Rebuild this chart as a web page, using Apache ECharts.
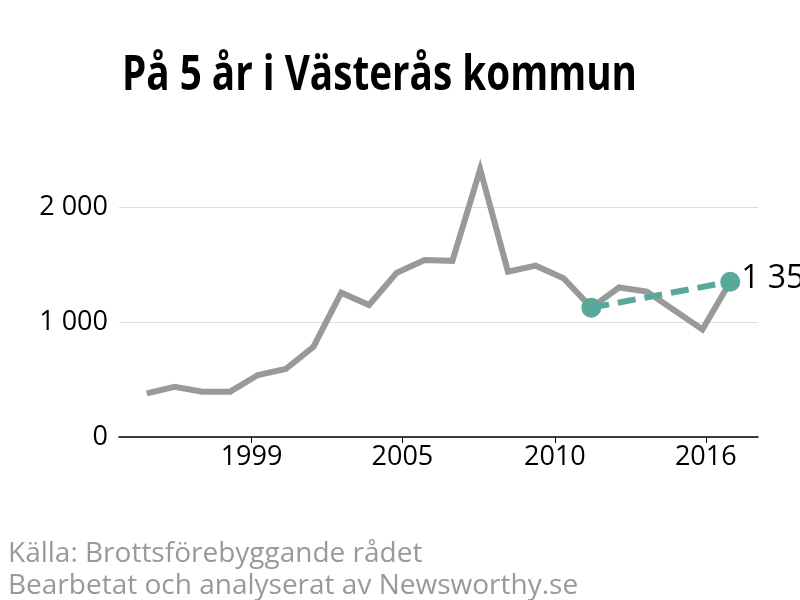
<!DOCTYPE html>
<html>
<head>
<meta charset="utf-8">
<script src="https://cdn.jsdelivr.net/npm/echarts@6/dist/echarts.min.js"></script>
<style>
  html, body { margin: 0; padding: 0; background: #fff; }
  #chart { width: 800px; height: 600px; }
</style>
</head>
<body>
<div id="chart"></div>
<script>
// data
var years = [1996, 1997, 1998, 1999, 2000, 2001, 2002, 2003, 2004, 2005, 2006,
             2007, 2008, 2009, 2010, 2011, 2012, 2013, 2014, 2015, 2016, 2017];
var values = [380, 437, 394, 394, 539, 591, 785, 1255, 1148, 1429, 1539,
              1532, 2328, 1438, 1490, 1380, 1125, 1300, 1264, 1100, 935, 1350];
// 5-year comparison: 2012 -> 2017
var trendYears = [2012, 2017];
var trendValues = [1125, 1350];
// x ticks sit between years in the original, labels show the year
var xTicks = [1999.77, 2005.2, 2010.69, 2016.12];
var yTicks = [0, 1000, 2000];

var titleText = 'På 5 år i Västerås kommun';
var titleFont = 'bold 48px "Open Sans", sans-serif';

function fmt(v) {
  return String(Math.round(v)).replace(/\B(?=(\d{3})+(?!\d))/g, ' ');
}

// the original title is a condensed bold face, squeeze Open Sans Bold to the same width
var ctx = document.createElement('canvas').getContext('2d');
ctx.font = titleFont;
var titleScale = 515 / ctx.measureText(titleText).width;

var chart = echarts.init(document.getElementById('chart'));

var option = {
  backgroundColor: '#fff',
  animation: false,
  graphic: [
    {
      type: 'text',
      x: 122,
      y: 76,
      scaleX: titleScale,
      style: {
        text: titleText,
        font: titleFont,
        fill: '#000',
        verticalAlign: 'middle'
      }
    }
  ],
  title: {
    text: 'Källa: Brottsförebyggande rådet\nBearbetat och analyserat av Newsworthy.se',
    left: 3,
    top: 533,
    textStyle: {
      fontFamily: '"Open Sans", sans-serif',
      fontWeight: 'normal',
      fontSize: 28,
      lineHeight: 32,
      color: '#999'
    }
  },
  grid: { left: 119, right: 42, top: 207, bottom: 163 },
  xAxis: {
    type: 'value',
    min: 1995,
    max: 2018,
    splitLine: { show: false },
    axisLine: { show: true, lineStyle: { color: '#000', width: 1.5 } },
    axisTick: { show: true, length: 6, customValues: xTicks, lineStyle: { color: '#000' } },
    axisLabel: {
      customValues: xTicks,
      formatter: function (v) { return String(Math.floor(v)); },
      fontFamily: '"Open Sans", sans-serif',
      fontSize: 27,
      color: '#000',
      margin: 7
    }
  },
  yAxis: {
    type: 'value',
    min: 0,
    max: 2000,
    interval: 1000,
    axisLine: { show: false },
    axisTick: { show: false },
    splitLine: { show: true, lineStyle: { color: '#ddd', width: 1 } },
    axisLabel: {
      customValues: yTicks,
      formatter: fmt,
      fontFamily: '"Open Sans", sans-serif',
      fontSize: 27,
      color: '#000',
      margin: 11
    }
  },
  series: [
    {
      type: 'line',
      clip: false,
      data: years.map(function (y, i) { return [y, values[i]]; }),
      symbol: 'none',
      lineStyle: { color: '#999', width: 6, join: 'miter' },
      z: 2
    },
    {
      type: 'line',
      clip: false,
      data: trendYears.map(function (y, i) { return [y, trendValues[i]]; }),
      symbol: 'circle',
      symbolSize: 20,
      itemStyle: { color: '#5aa79b' },
      lineStyle: { color: '#5aa79b', width: 6, type: [18, 9] },
      label: {
        show: true,
        position: 'right',
        distance: 1,
        offset: [0, -3],
        formatter: function (p) { return p.dataIndex === 1 ? fmt(p.value[1]) : ''; },
        fontFamily: '"Open Sans", sans-serif',
        fontSize: 32,
        color: '#000'
      },
      z: 3
    }
  ]
};

chart.setOption(option);
</script>
</body>
</html>
